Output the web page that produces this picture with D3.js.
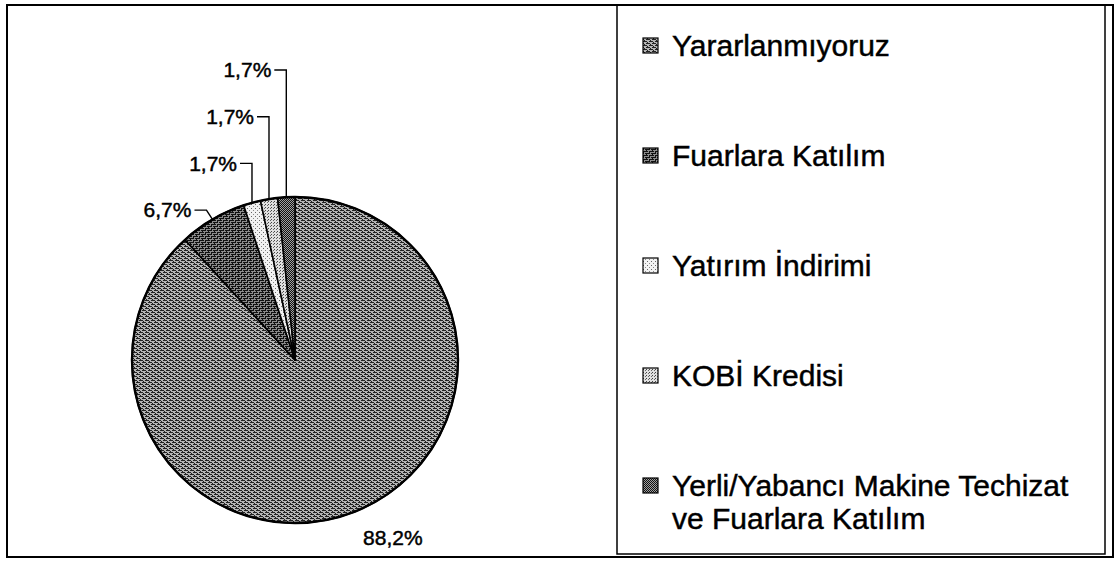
<!DOCTYPE html>
<html>
<head>
<meta charset="utf-8">
<script src="https://cdn.jsdelivr.net/npm/d3@7"></script>
<style>
  body { margin: 0; background: #fff; }
  svg { display: block; font-family: "Liberation Sans", Arial, sans-serif; }
  text { stroke: #000; stroke-width: 0.45px; }
</style>
</head>
<body>
<div id="chart"></div>
<script>
// data
const categories = [
    "Yararlanmıyoruz",
    "Fuarlara Katılım",
    "Yatırım İndirimi",
    "KOBİ Kredisi",
    "Yerli/Yabancı Makine Techizat ve Fuarlara Katılım"
];
const values = [88.2, 6.7, 1.7, 1.7, 1.7];
const legendLines = [
    ["Yararlanmıyoruz"],
    ["Fuarlara Katılım"],
    ["Yatırım İndirimi"],
    ["KOBİ Kredisi"],
    ["Yerli/Yabancı Makine Techizat", "ve Fuarlara Katılım"]
];
const patternIds = ["pYarar", "pFuar", "pYatirim", "pKobi", "pYerli"];

const width = 1115, height = 561;
const cx = 295, cy = 360, r = 163;

const svg = d3.select("#chart").append("svg")
    .attr("width", width)
    .attr("height", height);

// patterns (scanned-print look)
const defs = svg.append("defs");

let p = defs.append("pattern").attr("id", "pYarar")
    .attr("patternUnits", "userSpaceOnUse").attr("width", 6).attr("height", 4);
p.append("rect").attr("width", 6).attr("height", 4).attr("fill", "#b4b4b4");
p.append("path").attr("d", "M0,0.5h4M3,2.5h3M0,2.5h1M4,1.5h1M1,3.5h1").attr("stroke", "#222").attr("stroke-width", 1);

p = defs.append("pattern").attr("id", "pFuar")
    .attr("patternUnits", "userSpaceOnUse").attr("width", 6).attr("height", 4);
p.append("rect").attr("width", 6).attr("height", 4).attr("fill", "#8c8c8c");
p.append("path").attr("d", "M0,0.5h5M2,2.5h4M0,2.5h1M0,1.5h1M3,3.5h1").attr("stroke", "#111").attr("stroke-width", 1);

p = defs.append("pattern").attr("id", "pYatirim")
    .attr("patternUnits", "userSpaceOnUse").attr("width", 4).attr("height", 4);
p.append("rect").attr("width", 4).attr("height", 4).attr("fill", "#f2f2f2");
p.append("rect").attr("x", 0).attr("y", 0).attr("width", 1).attr("height", 1).attr("fill", "#666");
p.append("rect").attr("x", 2).attr("y", 2).attr("width", 1).attr("height", 1).attr("fill", "#888");

p = defs.append("pattern").attr("id", "pKobi")
    .attr("patternUnits", "userSpaceOnUse").attr("width", 3).attr("height", 3);
p.append("rect").attr("width", 3).attr("height", 3).attr("fill", "#e0e0e0");
p.append("rect").attr("x", 0).attr("y", 0).attr("width", 1).attr("height", 1).attr("fill", "#444");
p.append("rect").attr("x", 2).attr("y", 1).attr("width", 1).attr("height", 1).attr("fill", "#666");

p = defs.append("pattern").attr("id", "pYerli")
    .attr("patternUnits", "userSpaceOnUse").attr("width", 2).attr("height", 2);
p.append("rect").attr("width", 2).attr("height", 2).attr("fill", "#a0a0a0");
p.append("rect").attr("x", 0).attr("y", 0).attr("width", 1).attr("height", 1).attr("fill", "#111");
p.append("rect").attr("x", 1).attr("y", 1).attr("width", 1).attr("height", 1).attr("fill", "#111");

// frames
svg.append("rect")
    .attr("x", 7).attr("y", 5)
    .attr("width", 1106).attr("height", 552)
    .attr("fill", "none").attr("stroke", "#000").attr("stroke-width", 2);
svg.append("rect")
    .attr("x", 617).attr("y", 5)
    .attr("width", 488).attr("height", 549)
    .attr("fill", "none").attr("stroke", "#000").attr("stroke-width", 1.5);

// pie
const pie = d3.pie().sort(null).value(d => d);
const arcs = pie(values);
const arc = d3.arc().innerRadius(0).outerRadius(r);

const g = svg.append("g").attr("transform", `translate(${cx},${cy})`);

g.selectAll("path.slice")
    .data(arcs)
    .enter()
    .append("path")
    .attr("class", "slice")
    .attr("d", arc)
    .attr("fill", (d, i) => `url(#${patternIds[i]})`)
    .attr("stroke", "#000")
    .attr("stroke-width", 1.6)
    .attr("stroke-linejoin", "round");

g.append("circle")
    .attr("r", r)
    .attr("fill", "none")
    .attr("stroke", "#000")
    .attr("stroke-width", 2.4);

const fmt = v => d3.format(".1f")(v).replace(".", ",") + "%";

// big slice label, below right of the pie
const big = arcs[0];
const bigMid = (big.startAngle + big.endAngle) / 2;
g.append("text")
    .attr("x", Math.sin(bigMid) * (r + 25))
    .attr("y", -Math.cos(bigMid) * (r + 25) + 2)
    .attr("dy", "0.35em")
    .attr("font-size", 21)
    .attr("fill", "#000")
    .text(fmt(values[0]));

// small slice labels with leader lines, stacked above the pie
const labelTop = -290, labelStep = 46.7;
arcs.slice(1).forEach((d, k) => {
    const i = k + 1;
    const mid = (d.startAngle + d.endAngle) / 2;
    const ax = Math.sin(mid) * r, ay = -Math.cos(mid) * r;
    const ly = labelTop + (values.length - 1 - i) * labelStep;
    const ex = (ay - ly) > 30 ? ax : ax - 6;
    g.append("polyline")
        .attr("points", [[ax, ay], [ex, ly], [ex - 12, ly]].map(q => q.join(",")).join(" "))
        .attr("fill", "none")
        .attr("stroke", "#000")
        .attr("stroke-width", 1.4);
    g.append("text")
        .attr("x", ex - 15)
        .attr("y", ly)
        .attr("dy", "0.35em")
        .attr("text-anchor", "end")
        .attr("font-size", 21)
        .attr("fill", "#000")
        .text(fmt(values[i]));
});

// legend
const legend = svg.append("g");
const rowY = d3.scalePoint().domain(d3.range(categories.length)).range([45, 485]);

const items = legend.selectAll("g.item")
    .data(legendLines)
    .enter()
    .append("g")
    .attr("class", "item")
    .attr("transform", (d, i) => `translate(643,${rowY(i)})`);

items.append("rect")
    .attr("x", 0).attr("y", -7)
    .attr("width", 15).attr("height", 15)
    .attr("fill", (d, i) => `url(#${patternIds[i]})`)
    .attr("stroke", "#000")
    .attr("stroke-width", 1.2);

items.each(function(lines) {
    const t = d3.select(this).append("text")
        .attr("font-size", 30)
        .attr("fill", "#000");
    lines.forEach((line, j) => {
        t.append("tspan")
            .attr("x", 29)
            .attr("y", j * 33)
            .attr("dy", "0.35em")
            .text(line);
    });
});
</script>
</body>
</html>
